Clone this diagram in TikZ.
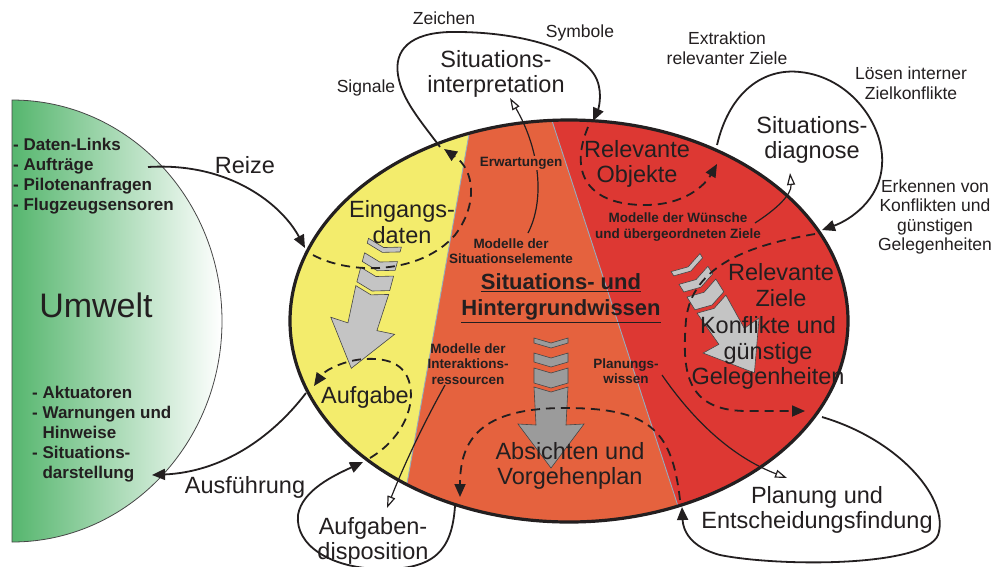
\documentclass[tikz,border=0pt]{standalone}
\usepackage{fontspec}
\setmainfont{Liberation Sans}
\usetikzlibrary{arrows.meta}

\definecolor{txt}{RGB}{35,31,32}
\definecolor{zoneY}{RGB}{243,236,108}
\definecolor{zoneO}{RGB}{229,98,62}
\definecolor{zoneR}{RGB}{221,56,51}
\definecolor{envgreen}{RGB}{86,182,110}
\definecolor{seam}{RGB}{150,172,190}
\definecolor{arrowlight}{RGB}{196,196,196}
\definecolor{arrowdark}{RGB}{155,155,155}
\definecolor{arrowedge}{RGB}{70,70,70}

\tikzset{
  big/.style={font=\fontsize{23.5}{25.5}\selectfont, text=txt, align=center, inner sep=0pt},
  small/.style={font=\fontsize{17.5}{19.5}\selectfont, text=txt, align=center, inner sep=0pt},
  tag/.style={font=\bfseries\fontsize{13.5}{15.5}\selectfont, text=txt, align=center, inner sep=0pt},
  listtext/.style={font=\bfseries\fontsize{17}{20}\selectfont, text=txt, align=left, inner sep=0pt},
  flow/.style={line width=1.8pt, draw=txt, -{Triangle[length=13pt,width=11pt]}},
  flowdash/.style={flow, dash pattern=on 9pt off 6pt},
  hint/.style={line width=1.2pt, draw=txt, -{Triangle[length=12pt,width=8pt,fill=white]}},
  pics/chevarrow/.style={code={
    \path[fill=#1, draw=arrowedge, line width=0.6pt, line join=miter]
      (-17,-50) -- (0,-45) -- (17,-50) -- (17,-45) -- (0,-40) -- (-17,-45) -- cycle
      (-17,-35) -- (0,-30) -- (17,-35) -- (17,-26) -- (0,-21) -- (-17,-26) -- cycle
      (-17,-20) -- (0,-15) -- (17,-20) -- (17,-5) -- (0,0) -- (-17,-5) -- cycle
      (-17,-1) -- (0,4) -- (17,-1) -- (15,37) -- (33,36) -- (0,80) -- (-33,36) -- (-15,37) -- cycle;
  }}
}

\begin{document}
\begin{tikzpicture}[x=1pt, y=-1pt]
\useasboundingbox (0,0) rectangle (995,566);
\fill[white] (0,0) rectangle (995,566);

% environment half disc with fading green
\shade[left color=envgreen, right color=white, draw=arrowedge, line width=0.8pt]
  (12,100) arc[start angle=-90, end angle=90, x radius=210, y radius=221] -- cycle;

% the three knowledge zones inside the ellipse
\begin{scope}
  \clip (569,321) ellipse [x radius=279, y radius=201];
  \fill[zoneY] (280,100) rectangle (860,545);
  \fill[zoneO] (475.1,100) -- (397,540) -- (860,540) -- (860,100) -- cycle;
  \fill[zoneR] (545.2,100) -- (689.1,540) -- (860,540) -- (860,100) -- cycle;
  \draw[seam, line width=0.9pt] (475.1,100) -- (397,540);
  \draw[seam, line width=0.9pt] (545.2,100) -- (689.1,540);
\end{scope}
\draw[txt, line width=3.2pt] (569,321) ellipse [x radius=279, y radius=201];

% broad arrows with chevrons
\pic[rotate=-15] at (372,291) {chevarrow=arrowlight};
\pic at (551,388) {chevarrow=arrowdark};
\pic[rotate=32] at (712,305) {chevarrow=arrowlight};

% connector end points
\coordinate (reizeA) at (148,167);
\coordinate (reizeB) at (305,248);
\coordinate (ausfA) at (306,393);
\coordinate (ausfB) at (152,475);
\coordinate (interpA) at (440,147);
\coordinate (interpB) at (593,121);
\coordinate (eingA) at (313,255);
\coordinate (eingB) at (444,149);
\coordinate (objA) at (588,127);
\coordinate (objB) at (717,164);
\coordinate (diagA) at (717,145);
\coordinate (diagB) at (822,230);
\coordinate (zieleA) at (815,234);
\coordinate (zieleB) at (805,411);
\coordinate (planA) at (822,417);
\coordinate (planB) at (682,507);
\coordinate (absA) at (680,500);
\coordinate (absB) at (460,497);
\coordinate (dispA) at (455,506);
\coordinate (dispB) at (363,462);
\coordinate (aufgA) at (370,458);
\coordinate (aufgB) at (314,386);
\coordinate (erwA) at (528,233);
\coordinate (erwB) at (510,98);
\coordinate (wueA) at (755,223);
\coordinate (wueB) at (790,173);
\coordinate (intA) at (445,385);
\coordinate (intB) at (387,508);
\coordinate (plwA) at (662,375);
\coordinate (plwB) at (787,478);

% solid flows
\draw[flow] (reizeA) .. controls (230,162) and (282,205) .. (reizeB);
\draw[flow] (ausfA) .. controls (270,440) and (220,472) .. (ausfB);
\draw[flow] (interpA) .. controls (420,120) and (402,100) .. (398,75)
  .. controls (394,50) and (410,33) .. (450,32)
  .. controls (520,31) and (585,50) .. (597,80)
  .. controls (603,95) and (598,110) .. (interpB);
\draw[flow] (diagA) .. controls (730,90) and (765,68) .. (800,72)
  .. controls (850,77) and (885,125) .. (882,165)
  .. controls (880,200) and (850,220) .. (diagB);
\draw[flow] (planA) .. controls (900,440) and (950,500) .. (938,535)
  .. controls (925,567) and (780,567) .. (720,555)
  .. controls (690,547) and (683,530) .. (planB);
\draw[flow] (dispA) .. controls (452,550) and (435,570) .. (380,569)
  .. controls (330,568) and (295,545) .. (298,515)
  .. controls (302,490) and (335,475) .. (dispB);

% dashed flows inside the ellipse
\draw[flowdash] (eingA) .. controls (350,275) and (420,275) .. (455,235)
  .. controls (478,205) and (475,170) .. (eingB);
\draw[flowdash] (objA) .. controls (568,175) and (590,205) .. (645,205)
  .. controls (685,205) and (705,185) .. (objB);
\draw[flowdash] (zieleA) .. controls (750,245) and (692,265) .. (686,320)
  .. controls (682,370) and (685,410) .. (745,411) -- (zieleB);
\draw[flowdash] (absA) .. controls (672,430) and (650,408) .. (565,408)
  .. controls (480,408) and (460,440) .. (absB);
\draw[flowdash] (aufgA) .. controls (400,440) and (415,410) .. (410,385)
  .. controls (405,362) and (385,358) .. (365,359)
  .. controls (345,360) and (325,370) .. (aufgB);

% knowledge feeding the processes
\draw[hint] (erwA) .. controls (545,200) and (540,150) .. (erwB);
\draw[hint] (wueA) .. controls (775,210) and (792,195) .. (wueB);
\draw[hint] (intA) .. controls (420,430) and (402,470) .. (intB);
\draw[hint] (plwA) .. controls (700,430) and (740,460) .. (plwB);

% environment texts
\node[font=\fontsize{34}{36}\selectfont, text=txt, inner sep=0pt] (umwelt) at (96,305) {Umwelt};
\node[listtext, anchor=west] (inputs) at (13,176)
  {- Daten-Links\\- Aufträge\\- Pilotenanfragen\\- Flugzeugsensoren};
\node[listtext, anchor=west] (outputs) at (32,434)
  {- Aktuatoren\\- Warnungen und\\\phantom{- }Hinweise\\- Situations-\\\phantom{- }darstellung};
\node[big] (reize) at (245,165) {Reize};
\node[big] (ausf) at (245,487) {Ausführung};

% process labels
\node[big] (interp) at (496,74) {Situations-\\interpretation};
\node[small] (zeichen) at (444,18) {Zeichen};
\node[small] (symbole) at (580,33) {Symbole};
\node[small] (signale) at (366,88) {Signale};
\node[small] (extrakt) at (727,48) {Extraktion\\relevanter Ziele};
\node[small] (loesen) at (911,83) {Lösen interner\\Zielkonflikte};
\node[big] (diagnose) at (812,140) {Situations-\\diagnose};
\node[small] (erkennen) at (935,217) {Erkennen von\\Konflikten und\\günstigen\\Gelegenheiten};
\node[big] (planung) at (817,510) {Planung und\\Entscheidungsfindung};
\node[big] (dispo) at (373,541) {Aufgaben-\\disposition};

% zone contents
\node[big] (eingang) at (402,222) {Eingangs-\\daten};
\node[big] (aufgabe) at (365,397) {Aufgabe};
\node[big] (objekte) at (637,164) {Relevante\\Objekte};
\node[big] (ziele) at (781,285) {Relevante\\Ziele};
\node[big] (konflikt) at (768,353) {Konflikte und\\günstige\\Gelegenheiten};
\node[big] (absicht) at (570,466) {Absichten und\\Vorgehenplan};

% knowledge models
\node[tag, fill=zoneO, inner sep=1pt] (erwart) at (521,163) {Erwartungen};
\node[tag] (situel) at (511,251) {Modelle der\\Situationselemente};
\node[tag] (wuensche) at (678,227) {Modelle der Wünsche\\und übergeordneten Ziele};
\node[tag] (interakt) at (468,364) {Modelle der\\Interaktions-\\ressourcen};
\node[tag] (planwissen) at (626,371) {Planungs-\\wissen};
\node[font=\bfseries\fontsize{22}{26}\selectfont, text=txt, align=center, inner sep=0pt] (wissen) at (561,298)
  {\underline{Situations- und}\\\underline{Hintergrundwissen}};
\end{tikzpicture}
\end{document}
